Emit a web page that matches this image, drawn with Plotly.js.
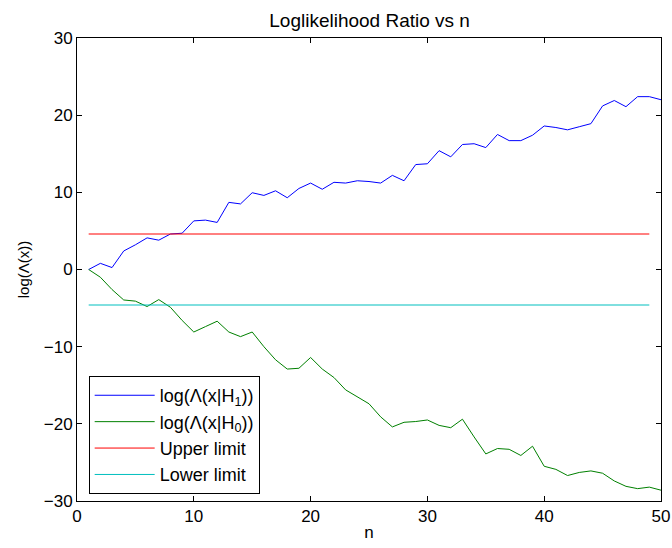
<!DOCTYPE html>
<html>
<head>
<meta charset="utf-8">
<script src="https://cdn.plot.ly/plotly-3.0.1.min.js"></script>
<style>
  html, body { margin: 0; padding: 0; background: #fff; }
  #chart { width: 672px; height: 548px; }
</style>
</head>
<body>
<div id="chart"></div>
<script>
// Sample index
const n = [];
for (let i = 1; i <= 50; i++) n.push(i);

// Cumulative log-likelihood ratio under H1
const logLambdaH1 = [
  0.0, 0.8, 0.25, 2.4, 3.2, 4.1, 3.8, 4.6, 4.7, 6.3,
  6.4, 6.1, 8.7, 8.5, 9.95, 9.6, 10.2, 9.3, 10.5, 11.2,
  10.4, 11.3, 11.2, 11.5, 11.4, 11.2, 12.2, 11.5, 13.6, 13.7,
  15.4, 14.6, 16.2, 16.3, 15.8, 17.5, 16.7, 16.7, 17.4, 18.6,
  18.4, 18.1, 18.5, 18.9, 21.2, 21.9, 21.1, 22.4, 22.4, 22.0
];

// Cumulative log-likelihood ratio under H0
const logLambdaH0 = [
  0.0, -1.0, -2.6, -3.95, -4.1, -4.8, -3.9, -4.9, -6.6, -8.1,
  -7.4, -6.7, -8.1, -8.7, -8.1, -10.0, -11.7, -12.9, -12.8, -11.4,
  -12.9, -14.0, -15.6, -16.5, -17.4, -19.1, -20.4, -19.8, -19.7, -19.5,
  -20.2, -20.5, -19.4, -21.7, -23.9, -23.2, -23.3, -24.1, -22.9, -25.5,
  -25.9, -26.7, -26.3, -26.1, -26.4, -27.4, -28.1, -28.4, -28.2, -28.6
];

// Decision thresholds, drawn from n = 1 to n = 49
const limitN = [1, 49];
const upperLimit = [4.6, 4.6];
const lowerLimit = [-4.6, -4.6];

const lineW = 1;
const traces = [
  { x: n, y: logLambdaH1, mode: 'lines', name: 'log(Λ(x|H<sub>1</sub>))',
    line: { color: '#0000ff', width: lineW } },
  { x: n, y: logLambdaH0, mode: 'lines', name: 'log(Λ(x|H<sub>0</sub>))',
    line: { color: '#008000', width: lineW } },
  { x: limitN, y: upperLimit, mode: 'lines', name: 'Upper limit',
    line: { color: '#ff0000', width: lineW } },
  { x: limitN, y: lowerLimit, mode: 'lines', name: 'Lower limit',
    line: { color: '#00bfbf', width: lineW } }
];

const fontFam = 'Liberation Sans, Arial, Helvetica, sans-serif';
const tickSize = 17;
const axisCommon = {
  showgrid: false, zeroline: false,
  showline: true, linecolor: '#000', linewidth: 1,
  mirror: 'allticks', ticks: 'inside', ticklen: 5, tickcolor: '#000',
  tickfont: { family: fontFam, size: tickSize, color: '#000' }
};

const layout = {
  width: 672, height: 548,
  margin: { l: 77, r: 11, t: 38, b: 47 },
  paper_bgcolor: '#fff', plot_bgcolor: '#fff',
  font: { family: fontFam, size: tickSize, color: '#000' },
  title: { text: 'Loglikelihood Ratio vs n', x: 0.55, xanchor: 'center', y: 0.962, yanchor: 'middle',
           font: { family: fontFam, size: 19, color: '#000' } },
  xaxis: Object.assign({}, axisCommon, {
    range: [0, 50], tickvals: [0, 10, 20, 30, 40, 50],
    title: { text: 'n', standoff: 0, font: { family: fontFam, size: 17, color: '#000' } }
  }),
  yaxis: Object.assign({}, axisCommon, {
    range: [-30, 30], tickvals: [-30, -20, -10, 0, 10, 20, 30],
    title: { text: 'log(Λ(x))', standoff: 10, font: { family: fontFam, size: 15, color: '#000' } }
  }),
  showlegend: true,
  legend: {
    x: 0.02, y: 0.015, xanchor: 'left', yanchor: 'bottom',
    bgcolor: '#fff', bordercolor: '#000', borderwidth: 1,
    font: { family: fontFam, size: 18, color: '#000' },
    itemwidth: 60, tracegroupgap: 0
  }
};

Plotly.newPlot('chart', traces, layout, { displayModeBar: false, staticPlot: true });
</script>
</body>
</html>
